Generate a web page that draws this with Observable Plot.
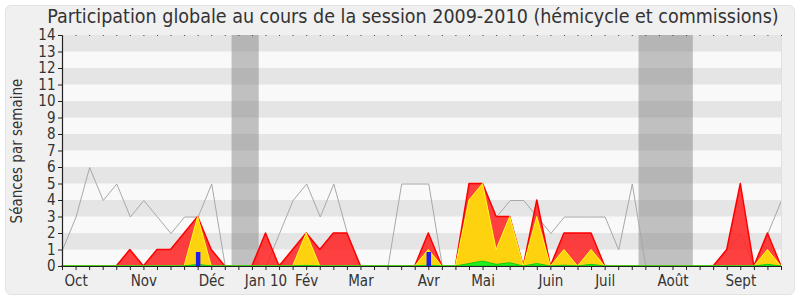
<!DOCTYPE html>
<html>
<head>
<meta charset="utf-8">
<script src="https://cdn.jsdelivr.net/npm/d3@7"></script>
<script src="https://cdn.jsdelivr.net/npm/@observablehq/plot@0.6"></script>
<style>
  html, body { margin: 0; padding: 0; background: #ffffff; }
  #wrap { position: relative; width: 800px; height: 300px; overflow: hidden; }
  #panel { position: absolute; left: 5px; top: 5px; width: 788px; height: 288px;
           background: #f0f0f0; border: 1px solid #e2e2e2; border-radius: 6px; }
  #title { position: absolute; left: 13px; top: 5px; width: 800px; text-align: center;
           font-family: "DejaVu Sans Condensed", "DejaVu Sans", sans-serif; font-stretch: condensed;
           font-size: 19.5px; color: #333; white-space: nowrap; }
  #chart { position: absolute; left: 0; top: 0; }
</style>
</head>
<body>
<div id="wrap">
  <div id="panel"></div>
  <div id="title">Participation globale au cours de la session 2009-2010 (hémicycle et commissions)</div>
  <div id="chart"></div>
</div>
<script>
// Week index (0 = first week of October 2009, 53 = last week of September 2010)
const weeks = [0,1,2,3,4,5,6,7,8,9,10,11,12,13,14,15,16,17,18,19,20,21,22,23,24,25,26,
               27,28,29,30,31,32,33,34,35,36,37,38,39,40,41,42,43,44,45,46,47,48,49,50,51,52,53];

// Grey line: weekly reference (median) number of sessions
const mediane = [1,3,6,4,5,3,4,3,2,3,3,5,0,0,0,0,2,4,5,3,5,2,0,0,0,5,5,5,0,0,
                 5,5,3,4,4,3,2,3,3,3,3,1,5,0,0,0,0,0,0,1,2,0,2,4];
// Red area: presences
const presences = [0,0,0,0,0,1,0,1,1,2,3,1,0,0,0,2,0,1,2,1,2,2,0,0,0,0,0,2,0,0,
                   5,5,3,3,0,4,0,2,2,2,0,0,0,0,0,0,0,0,0,1,5,0,2,0];
// Yellow area: participations
const participations = [0,0,0,0,0,0,0,0,0,0,3,0,0,0,0,0,0,0,2,0,0,0,0,0,0,0,0,1,0,0,
                        4,5,1,3,0,3,0,1,0,1,0,0,0,0,0,0,0,0,0,0,0,0,1,0];
// Green area: interventions
const interventions = [0,0,0,0,0,0,0,0,0,0,0.1,0,0,0,0,0,0,0,0.04,0,0,0,0,0,0,0,0,0.05,0,0,
                       0.15,0.3,0.1,0.2,0,0.15,0,0.05,0,0.1,0,0,0,0,0,0,0,0,0,0,0,0,0.1,0];
// Blue bars: questions orales
const questions = [0,0,0,0,0,0,0,0,0,0,0.85,0,0,0,0,0,0,0,0,0,0,0,0,0,0,0,0,0.85,0,0,
                   0,0,0,0,0,0,0,0,0,0,0,0,0,0,0,0,0,0,0,0,0,0,0,0];

// Vacation periods (week index bounds)
const vacStart = [12.5, 42.5];
const vacEnd   = [14.5, 46.5];

// Month labels and the week they are centred on
const monthNames = ["Oct","Nov","Déc","Jan 10","Fév","Mar","Avr","Mai","Juin","Juil","Août","Sept"];
const monthWeeks = [1, 6, 11, 15, 18, 22, 27, 31, 36, 40, 45, 50];

// Y ticks and darker stripes (lower bound of each darker band)
const yTicks = [0,1,2,3,4,5,6,7,8,9,10,11,12,13,14];
const darkBands = [1,3,5,7,9,11,13];

const data = weeks.map((w, i) => ({
  w, med: mediane[i], pres: presences[i], part: participations[i],
  inter: interventions[i], q: questions[i]
}));
const vacances = vacStart.map((s, i) => ({s, e: vacEnd[i]}));
const monthMap = new Map(monthWeeks.map((w, i) => [w, monthNames[i]]));

const chart = Plot.plot({
  width: 800,
  height: 300,
  marginLeft: 62,
  marginRight: 19,
  marginTop: 35,
  marginBottom: 34,
  style: {background: "transparent", fontFamily: "'DejaVu Sans Condensed', 'DejaVu Sans', sans-serif", fontSize: "15px", color: "#333"},
  x: {domain: [0, 53], axis: null},
  y: {domain: [0, 14], axis: null},
  marks: [
    Plot.frame({fill: "#f9f9f9", stroke: null}),
    Plot.rectY(darkBands, {y1: d => d, y2: d => d + 1, fill: "#e5e5e5"}),
    Plot.rectX(vacances, {x1: "s", x2: "e", fill: "#7a7a7a", fillOpacity: 0.45}),
    Plot.line(data, {x: "w", y: "med", stroke: "#a8a8a8", strokeWidth: 1}),
    Plot.areaY(data, {x: "w", y: "pres", fill: "#ff2020", fillOpacity: 0.85, stroke: "#ff0000", strokeWidth: 1.5}),
    Plot.areaY(data, {x: "w", y: "part", fill: "#ffd20f", stroke: "#ffff20", strokeWidth: 1}),
    Plot.areaY(data, {x: "w", y: "inter", fill: "#22ee22", stroke: "#11cc11", strokeWidth: 1}),
    Plot.ruleX(data.filter(d => d.q > 0), {x: "w", y1: 0, y2: "q", stroke: "#2020ee", strokeWidth: 4.5}),
    Plot.ruleY([0], {stroke: "#222", strokeWidth: 1.2}),
    Plot.ruleX([0], {stroke: "#222", strokeWidth: 1.2}),
    Plot.ruleX([53], {stroke: "#e0e0e0", strokeWidth: 1}),
    Plot.axisY({ticks: yTicks, tickSize: 4, tickPadding: 3, fontSize: 15, stroke: "#222", label: null}),
    Plot.axisX({ticks: weeks, tickSize: 4, tickFormat: () => "", stroke: "#222", label: null}),
    Plot.axisX({anchor: "top", ticks: weeks, tickSize: 1, tickFormat: () => "", stroke: "#444", label: null}),
    Plot.axisX({ticks: monthWeeks, tickSize: 0, tickPadding: 9, tickFormat: d => monthMap.get(d), fontSize: 15, label: null}),
    Plot.text(["Séances par semaine"], {frameAnchor: "left", dx: -45, rotate: -90, fontSize: 15, fill: "#333", textAnchor: "middle"})
  ]
});
document.getElementById("chart").appendChild(chart);
</script>
</body>
</html>
